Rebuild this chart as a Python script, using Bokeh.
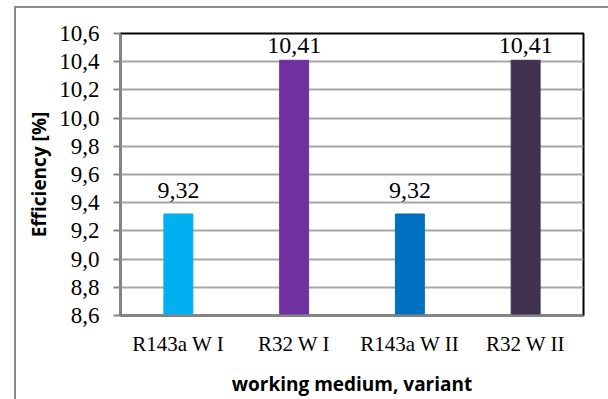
from bokeh.plotting import figure
from bokeh.models import ColumnDataSource, FixedTicker, LabelSet, CustomJSTickFormatter
from bokeh.core.properties import value
from bokeh.embed import file_html
from bokeh.resources import INLINE

categories = ["R143a W I", "R32 W I", "R143a W II", "R32 W II"]
efficiency = [9.32, 10.41, 9.32, 10.41]
bar_colors = ["#00B0F0", "#7030A0", "#0070C0", "#403151"]
y_ticks = [8.6, 8.8, 9.0, 9.2, 9.4, 9.6, 9.8, 10.0, 10.2, 10.4, 10.6]
label_gap = [16, 7, 16, 7]  # pixel gap between bar top and its value label

labels = [f"{v:.2f}".replace(".", ",") for v in efficiency]
src = ColumnDataSource(dict(cat=categories, val=efficiency, color=bar_colors,
                            lab=labels, gap=label_gap))

border_css = {
    "background-color": "white",
    "background-image": "linear-gradient(#8C8C8C,#8C8C8C), linear-gradient(#8C8C8C,#8C8C8C)",
    "background-size": "2px 400px, 600px 2px",
    "background-position": "14px 6px, 14px 6px",
    "background-repeat": "no-repeat",
}

p = figure(width=608, height=399, x_range=categories, y_range=(8.6, 10.6),
           output_backend="svg", toolbar_location=None,
           min_border_left=120, min_border_right=25, min_border_top=33, min_border_bottom=82,
           border_fill_color=None, background_fill_color="white", styles=border_css)

p.vbar(x="cat", top="val", bottom=8.6, width=0.25, color="color", source=src)

p.add_layout(LabelSet(x="cat", y="val", text="lab", source=src, text_align="center",
                      text_baseline="alphabetic", y_offset="gap",
                      text_font=value("Liberation Serif"),
                      text_font_size="24px", text_color="#000000"))

p.yaxis.ticker = FixedTicker(ticks=y_ticks)
p.yaxis.formatter = CustomJSTickFormatter(code="return tick.toFixed(1).replace('.', ',');")
p.yaxis.major_label_text_font = "Liberation Serif"
p.yaxis.major_label_text_font_size = "23px"
p.yaxis.major_label_text_color = "#000000"
p.yaxis.major_label_standoff = 14
p.yaxis.major_tick_out = 7
p.yaxis.major_tick_in = 0
p.yaxis.minor_tick_line_color = None
p.yaxis.axis_line_color = "#868686"
p.yaxis.major_tick_line_color = "#868686"
p.yaxis.axis_line_width = 2
p.yaxis.major_tick_line_width = 2
p.yaxis.axis_label = "Efficiency [%]"
p.yaxis.axis_label_text_font = "Open Sans"
p.yaxis.axis_label_text_font_style = "bold"
p.yaxis.axis_label_text_font_size = "19px"
p.yaxis.axis_label_text_color = "#000000"
p.yaxis.axis_label_standoff = 4

p.xaxis.major_tick_line_color = None
p.xaxis.major_label_text_font = "Liberation Serif"
p.xaxis.major_label_text_font_size = "21px"
p.xaxis.major_label_text_color = "#000000"
p.xaxis.major_label_standoff = 10
p.xaxis.axis_line_color = "#868686"
p.xaxis.axis_line_width = 2
p.xaxis.axis_label = "working medium, variant"
p.xaxis.axis_label_text_font = "Open Sans"
p.xaxis.axis_label_text_font_style = "bold"
p.xaxis.axis_label_text_font_size = "19px"
p.xaxis.axis_label_text_color = "#000000"
p.xaxis.axis_label_standoff = 12

p.xgrid.grid_line_color = None
p.ygrid.grid_line_color = "#A6A6A6"
p.ygrid.grid_line_width = 2
p.outline_line_color = "#000000"
p.outline_line_width = 2

open("out.html", "w").write(file_html(p, INLINE))
